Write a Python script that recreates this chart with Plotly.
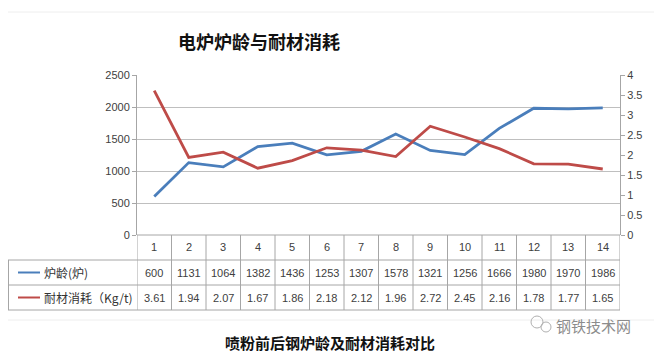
import plotly.graph_objects as go

categories = [str(i) for i in range(1, 15)]
furnace_age = [600, 1131, 1064, 1382, 1436, 1253, 1307, 1578, 1321, 1256, 1666, 1980, 1970, 1986]
refractory = [3.61, 1.94, 2.07, 1.67, 1.86, 2.18, 2.12, 1.96, 2.72, 2.45, 2.16, 1.78, 1.77, 1.65]
refractory_labels = ["3.61", "1.94", "2.07", "1.67", "1.86", "2.18", "2.12", "1.96", "2.72", "2.45", "2.16", "1.78", "1.77", "1.65"]
series_names = ["炉龄(炉)", "耐材消耗（Kg/t)"]
title_text = "电炉炉龄与耐材消耗"
caption_text = "喷粉前后钢炉龄及耐材消耗对比"
watermark_text = "钢铁技术网"

W, H = 662, 357
OFF = 8  # page body margin
BLUE = "#4A7EBB"
RED = "#BE4B48"
GRID = "#BFBFBF"
AX = "#A6A6A6"
FONT = "Liberation Sans, Arial, sans-serif"
CJK = "Noto Sans CJK SC"

def fx(x):
    return (x - OFF) / W

def fy(y):
    return 1 - (y - OFF) / H

PL, PR, PT, PB = 137, 620, 75, 235
ROW1, ROW2, ROW3 = 260, 285, 310
TL = 8

xcat = list(range(1, 15))

fig = go.Figure()
fig.add_trace(go.Scatter(x=xcat, y=furnace_age, mode="lines", name=series_names[0],
                         line=dict(color=BLUE, width=2.8), yaxis="y"))
fig.add_trace(go.Scatter(x=xcat, y=refractory, mode="lines", name=series_names[1],
                         line=dict(color=RED, width=2.8), yaxis="y2"))

shapes = []
def hline(y, x0, x1, color=AX, w=1):
    shapes.append(dict(type="line", xref="paper", yref="paper", x0=fx(x0), x1=fx(x1),
                       y0=fy(y), y1=fy(y), line=dict(color=color, width=w)))

hline(PB, PL, PR)
hline(ROW1, TL, PR)
hline(ROW2, TL, PR)
hline(ROW3, TL, PR)
for b in [i + 0.5 for i in range(0, 15)]:
    shapes.append(dict(type="line", xref="x", yref="paper", x0=b, x1=b, y0=fy(ROW3), y1=fy(PB),
                       line=dict(color=AX, width=1)))
shapes.append(dict(type="line", xref="paper", yref="paper", x0=fx(TL) + 0.5 / W, x1=fx(TL) + 0.5 / W,
                   y0=fy(ROW3), y1=fy(ROW1), line=dict(color=AX, width=1)))
shapes.append(dict(type="line", xref="paper", yref="paper", x0=fx(18), x1=fx(40), y0=fy(272.5), y1=fy(272.5),
                   line=dict(color=BLUE, width=2)))
shapes.append(dict(type="line", xref="paper", yref="paper", x0=fx(18), x1=fx(40), y0=fy(297.5), y1=fy(297.5),
                   line=dict(color=RED, width=2)))
hline(12, 8, 655, color="#EEEEEE")
hline(320, 8, 662, color="#EEEEEE")
# watermark icon (two outlined bubbles)
for (cx, cy, r) in [(537, 322, 6), (546, 327, 5)]:
    shapes.append(dict(type="circle", xref="paper", yref="paper", x0=fx(cx - r), x1=fx(cx + r),
                       y0=fy(cy + r), y1=fy(cy - r), line=dict(color="#B0B0B0", width=1)))

annotations = []
def ann(x, y, text, size, color, family=FONT, xref="paper", xanchor="center"):
    annotations.append(dict(x=x, y=fy(y), xref=xref, yref="paper", text=text, showarrow=False,
                            xanchor=xanchor, yanchor="middle",
                            font=dict(family=family, size=size, color=color)))

for c, a, r in zip(xcat, furnace_age, refractory_labels):
    ann(c, 247.5, categories[c - 1], 11, "#404040", xref="x")
    ann(c, 272.5, str(a), 11, "#404040", xref="x")
    ann(c, 297.5, r, 11, "#404040", xref="x")
ann(fx(42), 272.5, series_names[0], 12, "#333333", family=CJK, xanchor="left")
ann(fx(42), 297.5, series_names[1], 12, "#333333", family=CJK, xanchor="left")
ann(fx(259), 41, "<b>" + title_text + "</b>", 18, "#111111", family=CJK)
ann(fx(330), 342, "<b>" + caption_text + "</b>", 15, "#111111", family=CJK)
ann(fx(593), 325, watermark_text, 15, "#8C8C8C", family=CJK)

fig.update_layout(
    width=W, height=H, margin=dict(l=0, r=0, t=0, b=0, pad=0, autoexpand=False),
    paper_bgcolor="white", plot_bgcolor="white", showlegend=False,
    xaxis=dict(domain=[fx(PL), fx(PR)], range=[0.5, 14.5], showticklabels=False, showgrid=False,
               zeroline=False, showline=False, fixedrange=True, automargin=False),
    yaxis=dict(domain=[fy(PB), fy(PT)], range=[0, 2500], dtick=500, showgrid=True, gridcolor=GRID,
               gridwidth=1, zeroline=False, showline=True, linecolor=AX, ticks="outside", ticklen=4,
               tickcolor=AX, automargin=False, tickfont=dict(family=FONT, size=11, color="#404040")),
    yaxis2=dict(overlaying="y", side="right", range=[0, 4], dtick=0.5, showgrid=False, zeroline=False,
                showline=True, linecolor=AX, ticks="outside", ticklen=4, tickcolor=AX, automargin=False,
                tickfont=dict(family=FONT, size=11, color="#404040")),
    shapes=shapes, annotations=annotations,
)

fig.write_html("out.html")
